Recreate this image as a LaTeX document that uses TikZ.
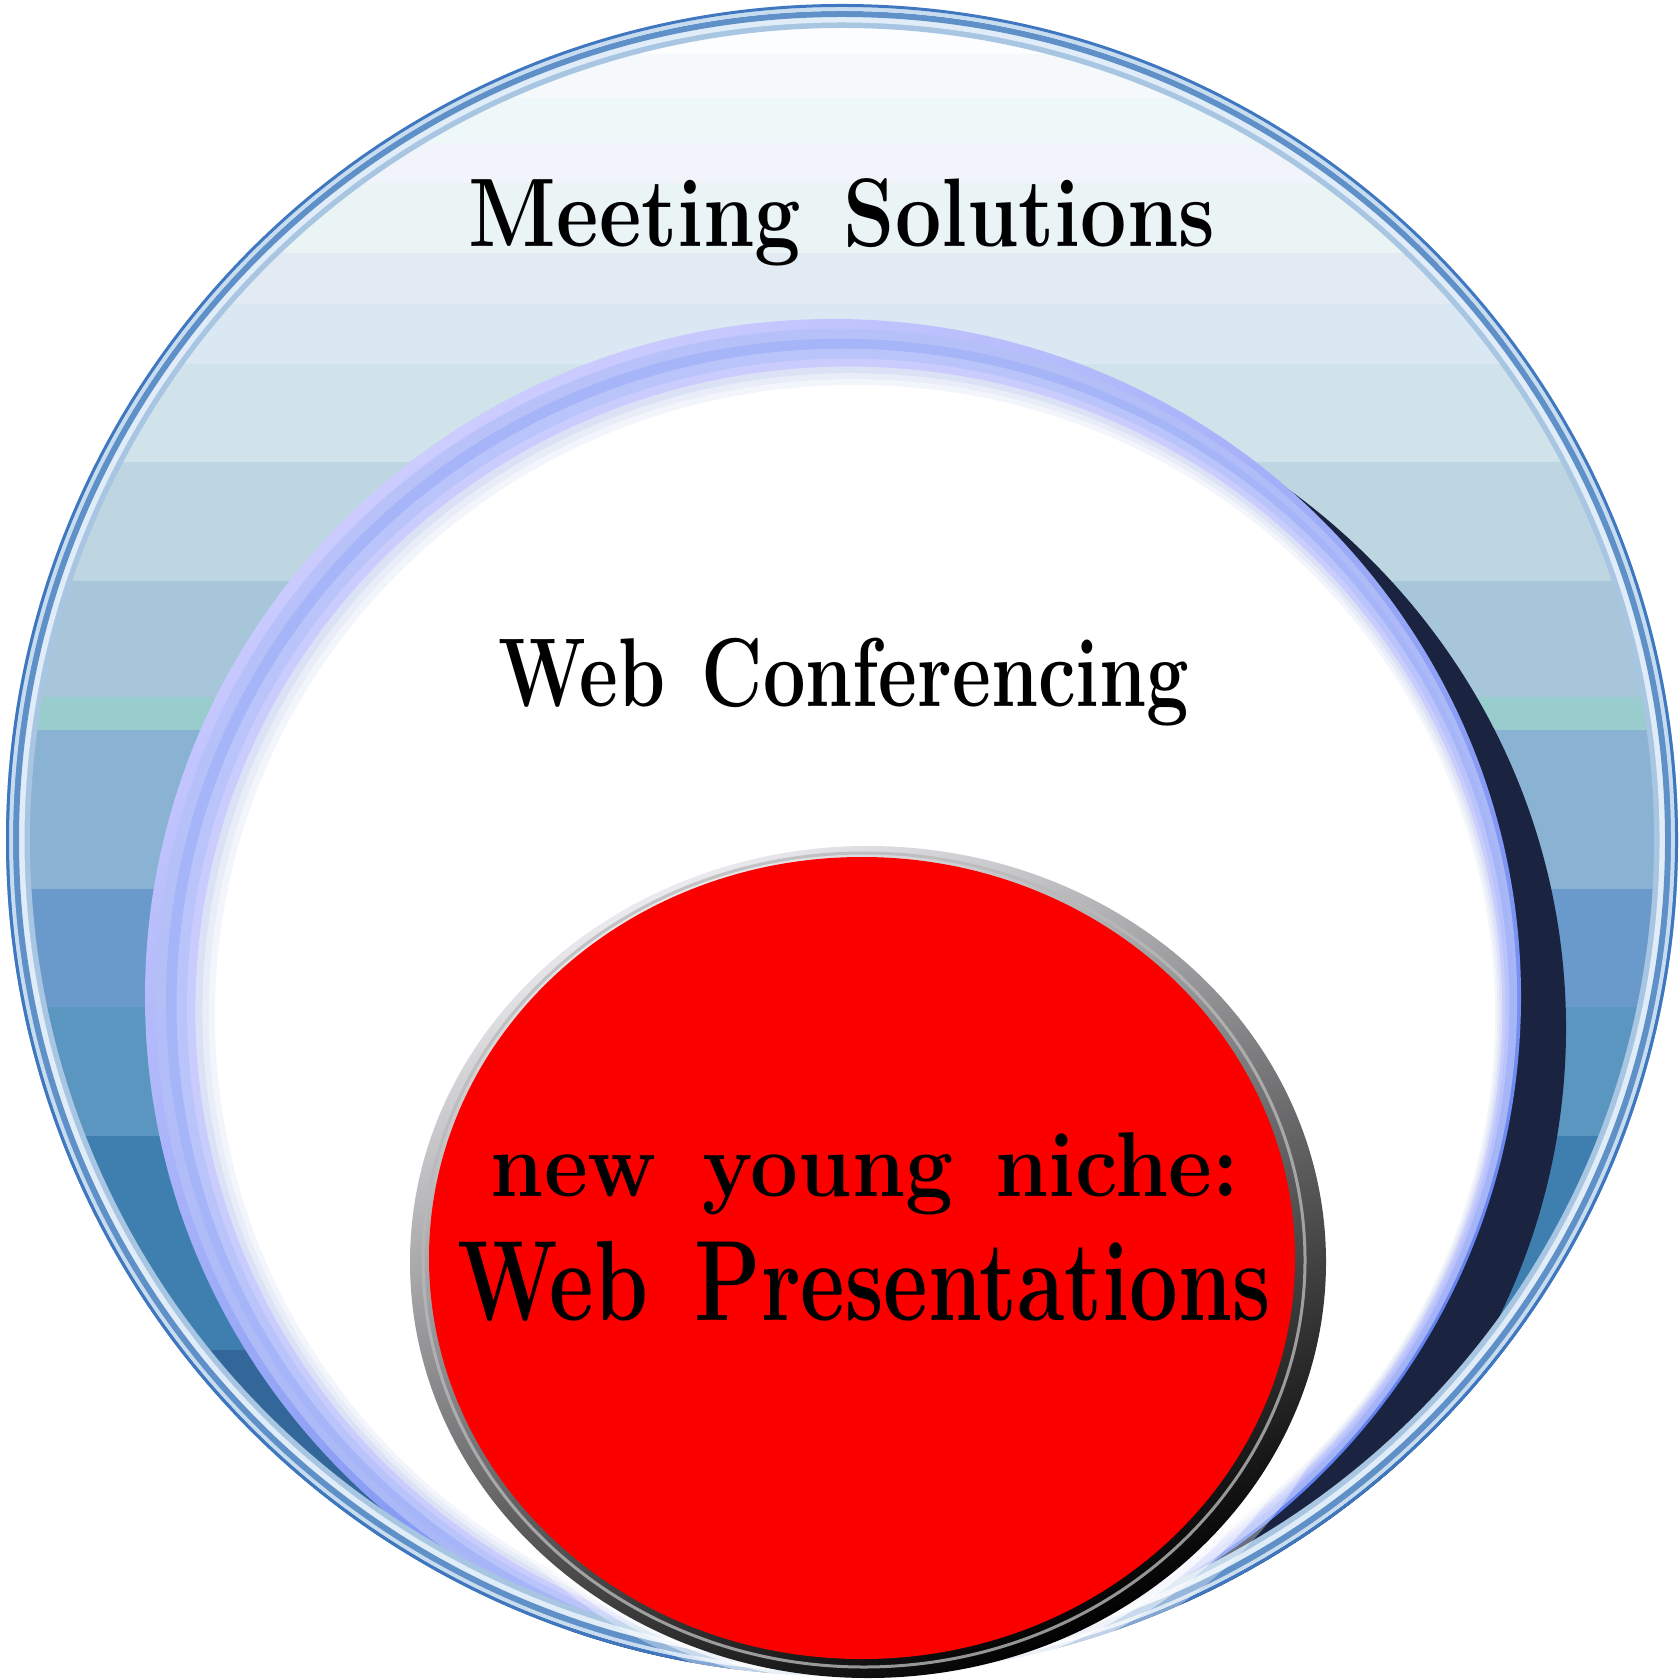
\documentclass[tikz,border=0pt]{standalone}
\usepackage{fontspec}
\usepackage{graphicx}
\newcommand\pxu{0.2845pt}
\definecolor{sA}{HTML}{FBFDFE}
\definecolor{sB}{HTML}{F5F9FC}
\definecolor{sC}{HTML}{EEF8F8}
\definecolor{sD}{HTML}{F2F4FC}
\definecolor{sE}{HTML}{EAF4F4}
\definecolor{sF}{HTML}{E2EAF4}
\definecolor{sG}{HTML}{DAE8F4}
\definecolor{sH}{HTML}{D0E2EA}
\definecolor{sI}{HTML}{BED6E2}
\definecolor{sJ}{HTML}{A8C6DA}
\definecolor{sK}{HTML}{99CCCC}
\definecolor{sL}{HTML}{8AB2D2}
\definecolor{sM}{HTML}{6A9ACC}
\definecolor{sN}{HTML}{5A96C0}
\definecolor{sO}{HTML}{3F7FB0}
\definecolor{sP}{HTML}{336699}
\definecolor{navy}{HTML}{1A2440}
\definecolor{lavA}{HTML}{CCCCFF}
\definecolor{lavBlue}{HTML}{5F7FEE}
\definecolor{lavB}{HTML}{B4C0F8}
\definecolor{lavC}{HTML}{A6B4F8}
\definecolor{lavD}{HTML}{B8C4FA}
\definecolor{lavE}{HTML}{CACCFE}
\definecolor{glA}{HTML}{DCE2F6}
\definecolor{glB}{HTML}{E8EDF8}
\definecolor{glC}{HTML}{F3F5FC}
\definecolor{rimdark}{HTML}{3F78C0}
\definecolor{rimlight}{HTML}{C8DCF0}
\definecolor{rimmid}{HTML}{5F90C8}
\definecolor{rimpale}{HTML}{E0ECF8}
\definecolor{rimsoft}{HTML}{A8C6E2}
\definecolor{ringlight}{HTML}{ECECF0}
\definecolor{ringmid}{HTML}{555555}
\definecolor{redfill}{HTML}{FC0000}
\tikzset{
  lbl/.style={anchor=base, inner sep=0pt, text=black}
}
\begin{document}
\begin{tikzpicture}[x=0.01cm,y=-0.01cm]
\useasboundingbox (0,0) rectangle (1680,1680);
\fill[white] (0,0) rectangle (1680,1680);
% outer circle: striped fill
\begin{scope}
\clip (842,840) circle (836);
\fill[sA] (0,0) rectangle (1680,54);
\fill[sB] (0,54) rectangle (1680,98);
\fill[sC] (0,98) rectangle (1680,143);
\fill[sD] (0,143) rectangle (1680,183);
\fill[sE] (0,183) rectangle (1680,253);
\fill[sF] (0,253) rectangle (1680,304);
\fill[sG] (0,304) rectangle (1680,364);
\fill[sH] (0,364) rectangle (1680,462);
\fill[sI] (0,462) rectangle (1680,581);
\fill[sJ] (0,581) rectangle (1680,697);
\fill[sK] (0,697) rectangle (1680,730);
\fill[sL] (0,730) rectangle (1680,889);
\fill[sM] (0,889) rectangle (1680,1007);
\fill[sN] (0,1007) rectangle (1680,1136);
\fill[sO] (0,1136) rectangle (1680,1350);
\fill[sP] (0,1350) rectangle (1680,1680);
% shadow of middle circle
\fill[navy] (876,1028) ellipse [x radius=690, y radius=672];
% middle ring
\shade[top color=lavA, bottom color=lavBlue, shading angle=35] (833,997) ellipse [x radius=688, y radius=678];
\fill[lavB, opacity=0.8] (836.3,999.7) ellipse [x radius=680.8, y radius=670.8];
\fill[lavC] (839.6,1002.4) ellipse [x radius=673.6, y radius=663.6];
\fill[lavD] (842.9,1005.1) ellipse [x radius=666.4, y radius=656.4];
\fill[lavE] (846.2,1007.8) ellipse [x radius=659.2, y radius=649.2];
\fill[glA] (848.8,1010) ellipse [x radius=653.4, y radius=643.4];
\fill[glB] (851,1011.8) ellipse [x radius=648.6, y radius=638.6];
\fill[glC] (853,1013.4) ellipse [x radius=644.3, y radius=634.3];
\fill[white] (855,1015) ellipse [x radius=640, y radius=630];
\end{scope}
% outer rim
\draw[rimsoft, line width=6*\pxu] (842,840) circle (815);
\draw[rimpale, line width=6*\pxu] (842,840) circle (820.5);
\draw[rimmid, line width=6*\pxu] (842,840) circle (826);
\draw[rimlight, line width=4*\pxu] (842,840) circle (831);
\draw[rimdark, line width=3*\pxu] (842,840) circle (834.5);
% glow around red disc
\fill[white, opacity=0.35] (882,1266) ellipse [x radius=480, y radius=432];
\fill[white, opacity=0.5] (876,1264) ellipse [x radius=471, y radius=425];
\fill[white, opacity=0.7] (872,1263) ellipse [x radius=464, y radius=420];
% red disc with metallic ring
\shade[top color=ringlight, middle color=ringmid, bottom color=black, shading angle=25] (868,1262) ellipse [x radius=458, y radius=416];
\draw[gray!55, line width=3*\pxu, opacity=0.8] (864,1260) ellipse [x radius=441, y radius=407];
\fill[redfill] (862,1258) ellipse [x radius=433, y radius=401];
% labels
\node[lbl] (ms) at (842,247) {\scalebox{0.845}[1]{\fontsize{27.7pt}{30pt}\selectfont\bfseries Meeting\hspace{14.5pt}Solutions}};
\node[lbl] (wc) at (844,707) {\scalebox{0.772}[1]{\fontsize{27.8pt}{30pt}\selectfont\bfseries Web\hspace{13.5pt}Conferencing}};
\node[lbl] (ny) at (865,1196) {\scalebox{0.925}[1]{\fontsize{26.2pt}{30pt}\selectfont\bfseries new\hspace{14pt}young\hspace{13pt}niche:}};
\node[lbl] (wp) at (864,1320) {\scalebox{0.757}[1]{\fontsize{32.5pt}{34pt}\selectfont\bfseries Web\hspace{17.5pt}Presentations}};
\end{tikzpicture}
\end{document}
